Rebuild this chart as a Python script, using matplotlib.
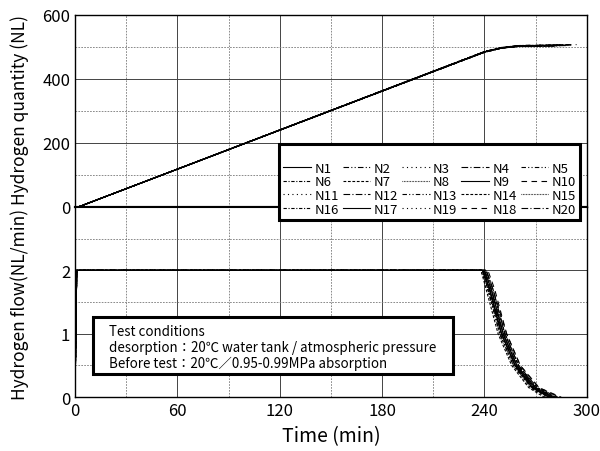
import matplotlib
matplotlib.use('Agg')
from matplotlib import pyplot as plt
from matplotlib.patches import Rectangle
from matplotlib.ticker import MultipleLocator

plt.rcParams['font.family'] = ['Noto Sans CJK JP', 'DejaVu Sans']

labels = ['N1', 'N2', 'N3', 'N4', 'N5', 'N6', 'N7', 'N8', 'N9', 'N10',
          'N11', 'N12', 'N13', 'N14', 'N15', 'N16', 'N17', 'N19', 'N18', 'N20']
styles = ['-', (0, (5, 2, 1, 2, 1, 2)), (0, (1, 3)), (0, (6, 2, 1, 2)), (0, (4, 2, 1, 2, 1, 2)),
          (0, (3, 1.5, 1, 1.5)), (0, (2.5, 1.5)), (0, (0.6, 0.8)), '-', (0, (5, 4)),
          (0, (1, 3)), (0, (6, 2, 1, 2)), (0, (4, 2, 1, 2, 1, 2)), (0, (2.5, 1.5)), (0, (0.6, 0.8)),
          (0, (3, 1.5, 1, 1.5)), '-', (0, (1, 3)), (0, (5, 4)), (0, (6, 2, 1, 2))]

# hydrogen quantity (NL): shared sample times, end time per run
qty_t = [0, 2, 240, 250, 260]
qty_v = [
    [0, 0, 484, 497, 503, 505], [0, 0, 483, 496, 502, 504], [0, 0, 485, 497, 503, 506],
    [0, 0, 484, 496, 501, 503], [0, 0, 485, 498, 504, 507], [0, 0, 483, 496, 502, 504],
    [0, 0, 484, 497, 503, 505], [0, 0, 485, 497, 503, 506], [0, 0, 484, 496, 502, 503],
    [0, 0, 485, 498, 504, 507], [0, 0, 483, 496, 501, 502], [0, 0, 484, 497, 503, 505],
    [0, 0, 485, 497, 503, 504], [0, 0, 484, 496, 502, 505], [0, 0, 485, 498, 504, 506],
    [0, 0, 483, 496, 502, 503], [0, 0, 484, 497, 503, 504], [0, 0, 485, 497, 502, 505],
    [0, 0, 484, 497, 503, 506], [0, 0, 484, 496, 502, 504],
]
qty_end = [285, 283, 288, 280, 290, 284, 286, 289, 281, 294,
           282, 287, 285, 283, 291, 280, 284, 286, 292, 288]

# hydrogen flow (NL/min): shared levels, sample times per run
flow_v = [0, 2.0, 2.0, 1.7, 1.0, 0.5, 0.15, 0]
flow_t = [
    [0, 1, 239, 243, 250, 258, 268, 278], [0, 1, 240, 244, 251, 259, 269, 280],
    [0, 1, 238, 242, 249, 257, 267, 276], [0, 1, 241, 245, 252, 260, 270, 281],
    [0, 1, 239, 242, 249, 257, 268, 279], [0, 1, 240, 244, 252, 260, 271, 283],
    [0, 1, 238, 241, 248, 256, 266, 275], [0, 1, 241, 244, 251, 259, 270, 280],
    [0, 1, 239, 243, 250, 258, 269, 278], [0, 1, 242, 246, 253, 261, 272, 285],
    [0, 1, 238, 242, 250, 258, 267, 277], [0, 1, 240, 243, 250, 258, 268, 279],
    [0, 1, 239, 243, 251, 259, 269, 279], [0, 1, 241, 245, 252, 260, 271, 282],
    [0, 1, 240, 243, 249, 257, 267, 277], [0, 1, 239, 242, 250, 258, 268, 278],
    [0, 1, 240, 244, 251, 259, 270, 281], [0, 1, 238, 242, 249, 257, 268, 278],
    [0, 1, 241, 245, 253, 261, 272, 284], [0, 1, 239, 243, 251, 259, 269, 280],
]

W, H = 600, 452
fig = plt.figure(figsize=(6, 4.52), dpi=100)
ax_q = fig.add_axes([0.125, 0.54, 0.853, 0.425])
ax_f = fig.add_axes([0.125, 0.119, 0.853, 0.421], sharex=ax_q)

handles = []
for i, lab in enumerate(labels):
    h, = ax_q.plot(qty_t + [qty_end[i]], qty_v[i], color='black', lw=0.8, ls=styles[i], label=lab)
    ax_f.plot(flow_t[i], flow_v, color='black', lw=0.8, ls=styles[i])
    handles.append(h)

ax_q.set_ylim(0, 600)
ax_f.set_ylim(0, 3)
ax_q.set_xlim(0, 300)

for ax in (ax_q, ax_f):
    ax.xaxis.set_major_locator(MultipleLocator(60))
    ax.xaxis.set_minor_locator(MultipleLocator(30))
    ax.grid(which='major', color='#444444', lw=0.7, ls='-')
    ax.grid(which='minor', color='#777777', lw=0.6, ls=(0, (2, 1.5)))
    ax.tick_params(which='both', direction='in', length=0, labelsize=12)
    for s in ax.spines.values():
        s.set_linewidth(1.0)
    ax.set_axisbelow(True)

ax_q.yaxis.set_major_locator(MultipleLocator(200))
ax_q.yaxis.set_minor_locator(MultipleLocator(100))
ax_f.yaxis.set_major_locator(MultipleLocator(1))
ax_f.yaxis.set_minor_locator(MultipleLocator(0.5))
ax_f.set_yticks([0, 1, 2], ['0', '1', '2'])
ax_q.tick_params(axis='x', labelbottom=False)
ax_f.set_xlabel('Time (min)', fontsize=14, labelpad=4)
ax_q.spines['bottom'].set_linewidth(1.5)
ax_f.spines['top'].set_linewidth(1.5)

fig.text(0.032, 0.542, 'Hydrogen flow(NL/min) Hydrogen quantity (NL)',
         rotation=90, ha='center', va='center', fontsize=12.5)

# legend filled row by row
order = [r * 5 + c for c in range(5) for r in range(4)]
leg = fig.legend([handles[k] for k in order], [labels[k] for k in order],
                 ncol=5, loc='upper right', bbox_to_anchor=(580 / W, 1 - 145 / H),
                 fontsize=9.5, title=' ', title_fontsize=9, frameon=True, fancybox=False,
                 handlelength=2.1, handletextpad=0.25, columnspacing=0.3,
                 labelspacing=0.05, borderpad=0.3, borderaxespad=0)
leg.get_frame().set_edgecolor('black')
leg.get_frame().set_linewidth(2.2)
leg.get_frame().set_alpha(1)

# test-condition box
fig.add_artist(Rectangle((93 / W, 1 - 375 / H), 360 / W, 57 / H, transform=fig.transFigure,
                         fc='white', ec='black', lw=2.2, zorder=5))
fig.text(109 / W, 1 - 348 / H,
         'Test conditions\n'
         'desorption：20℃ water tank / atmospheric pressure\n'
         'Before test：20℃／0.95‑0.99MPa absorption',
         fontsize=9.6, ha='left', va='center', linespacing=1.2, zorder=6)

fig.savefig('out.png', dpi=100)
